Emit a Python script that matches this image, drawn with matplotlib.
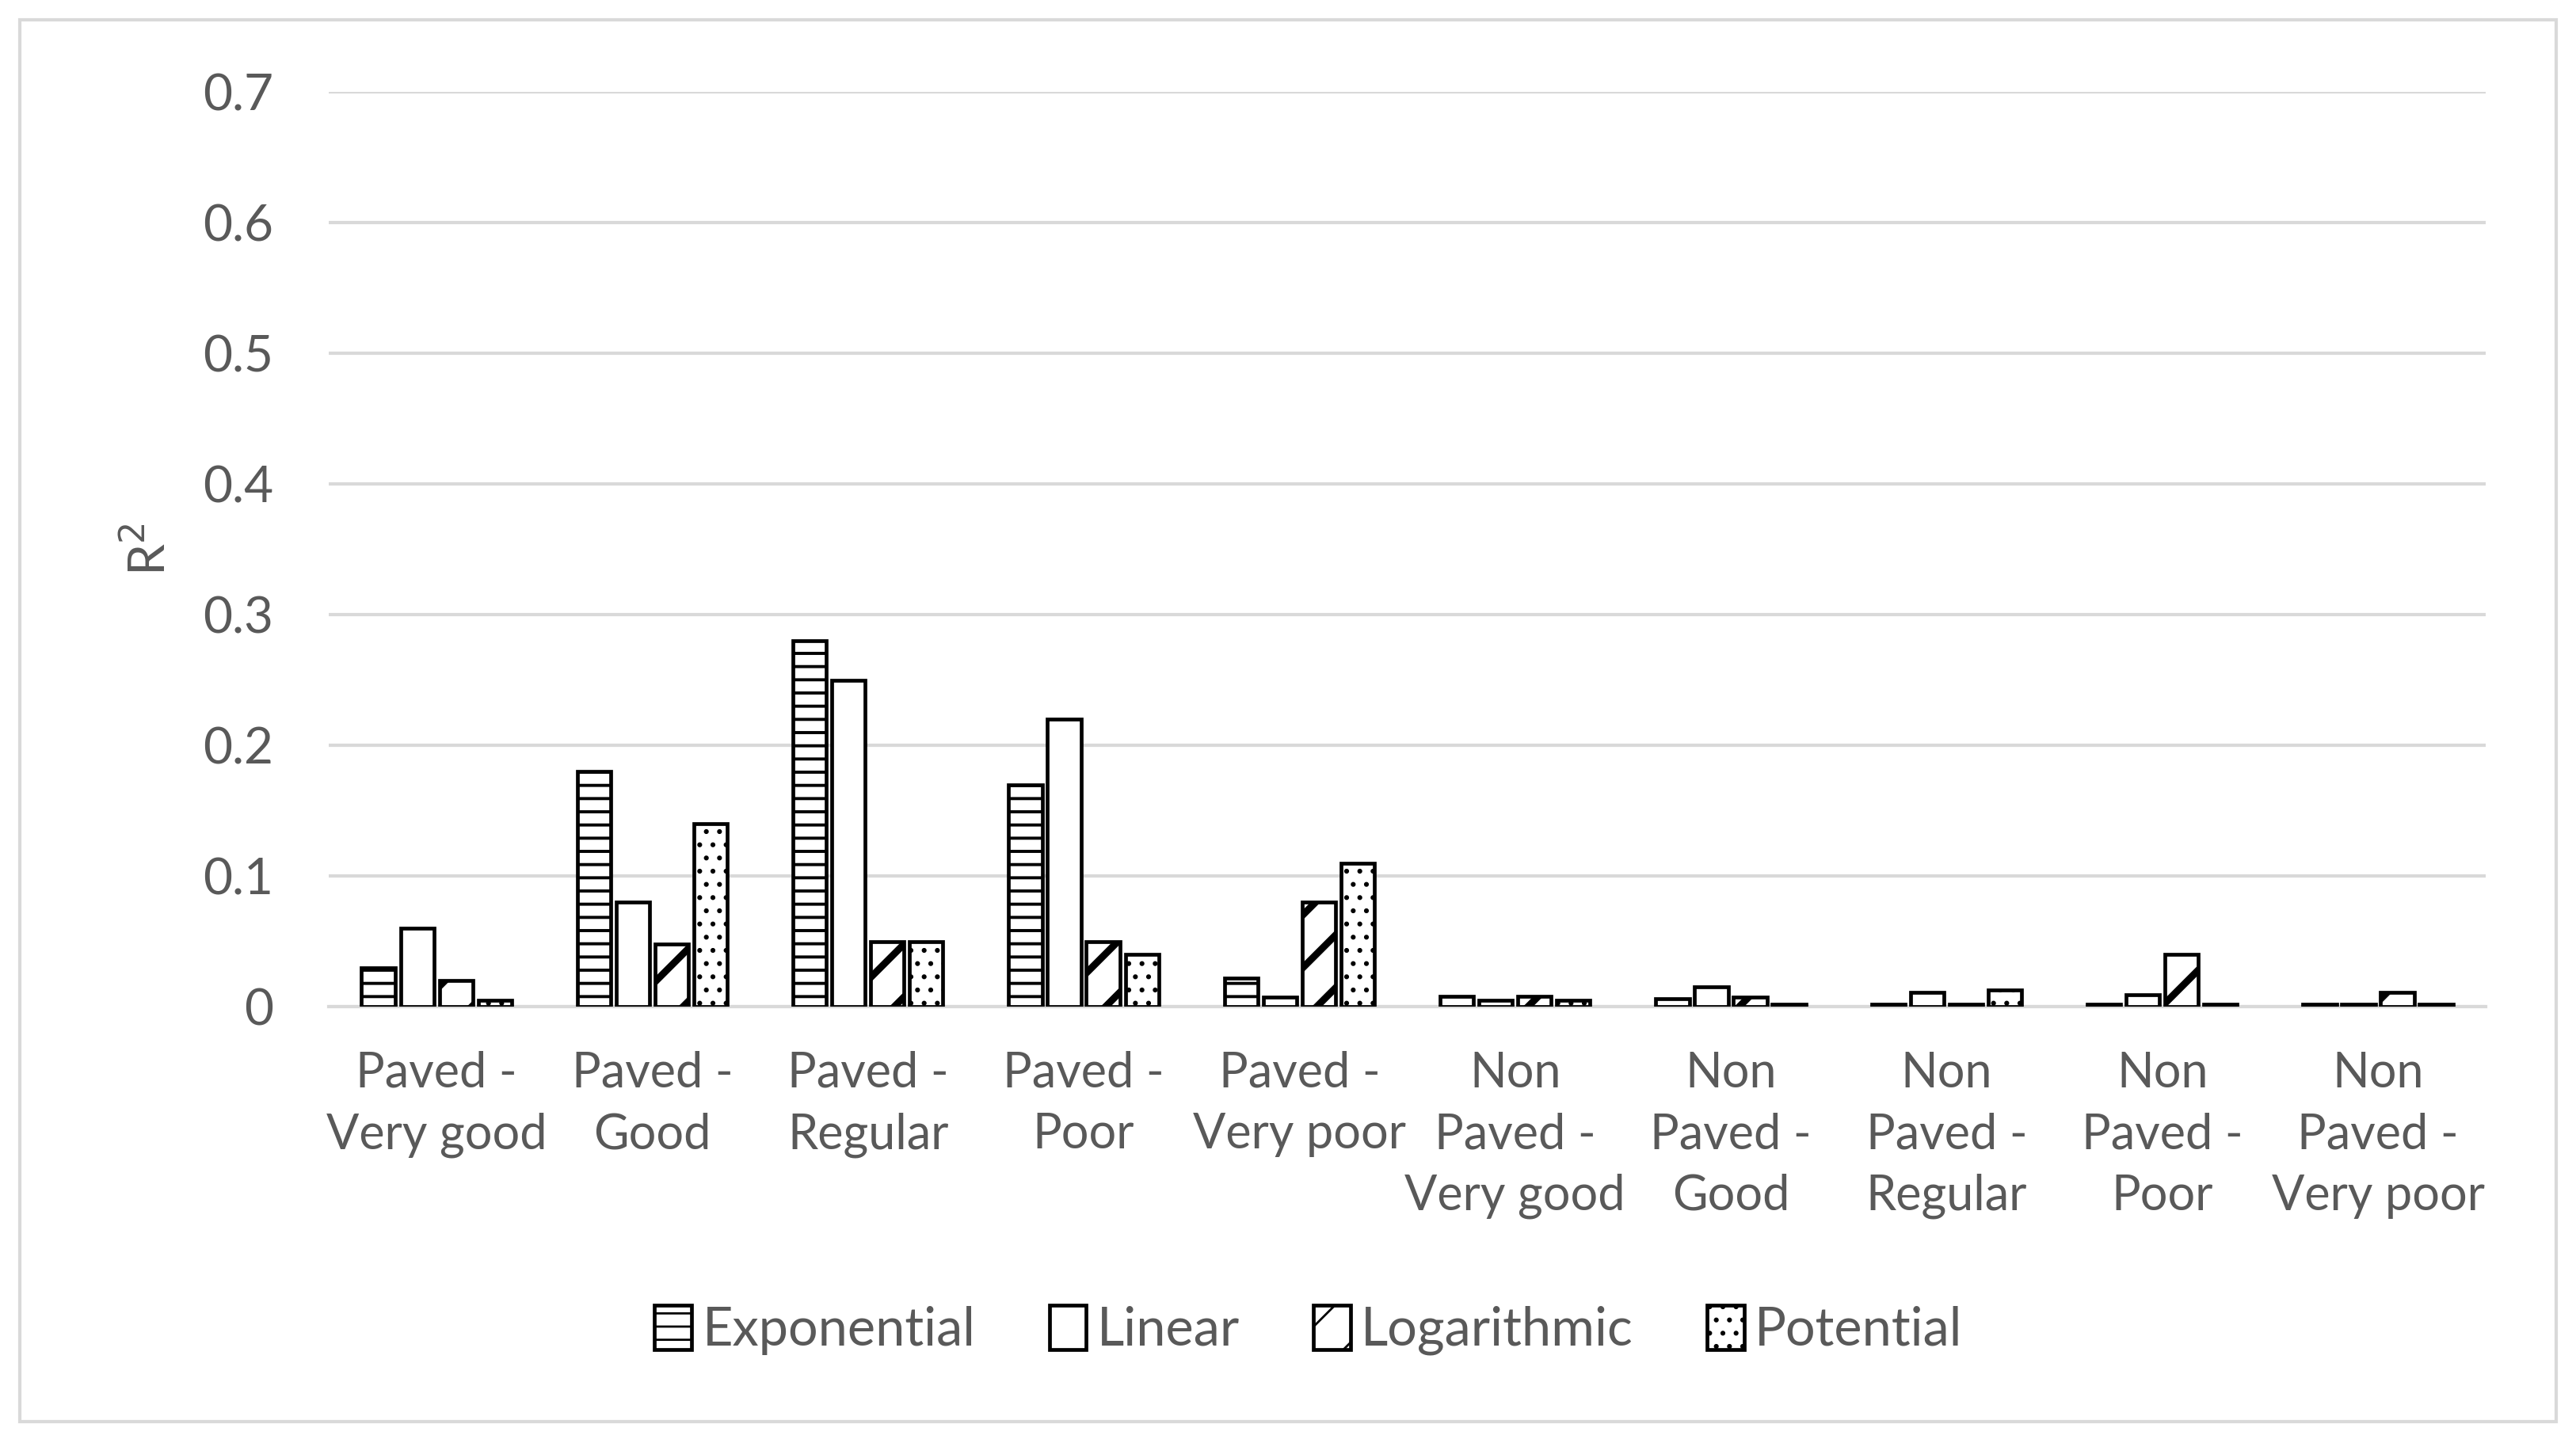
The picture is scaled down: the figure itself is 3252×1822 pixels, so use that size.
import numpy as np
import matplotlib
matplotlib.use('Agg')
import matplotlib.pyplot as plt
from matplotlib.patches import Rectangle

plt.rcParams['font.family'] = ['Lato', 'DejaVu Sans']

# categories and R^2 values
categories = ['Paved -\nVery good', 'Paved -\nGood', 'Paved -\nRegular', 'Paved -\nPoor',
              'Paved -\nVery poor', 'Non\nPaved -\nVery good', 'Non\nPaved -\nGood',
              'Non\nPaved -\nRegular', 'Non\nPaved -\nPoor', 'Non\nPaved -\nVery poor']
exponential = [0.03, 0.18, 0.28, 0.17, 0.022, 0.008, 0.006, 0.002, 0.002, 0.002]
linear = [0.06, 0.08, 0.25, 0.22, 0.007, 0.005, 0.015, 0.011, 0.009, 0.002]
logarithmic = [0.02, 0.048, 0.05, 0.05, 0.08, 0.008, 0.007, 0.002, 0.04, 0.011]
potential = [0.005, 0.14, 0.05, 0.04, 0.11, 0.005, 0.002, 0.013, 0.002, 0.002]
series_names = ['Exponential', 'Linear', 'Logarithmic', 'Potential']
yticks = [0, 0.1, 0.2, 0.3, 0.4, 0.5, 0.6, 0.7]
ytick_labels = ['0', '0.1', '0.2', '0.3', '0.4', '0.5', '0.6', '0.7']

hatches = ['--', '', '/', '..']
hatch_lw = [1.4, 1.0, 3.2, 1.0]
txt = '#595959'

fig = plt.figure(figsize=(16.26, 9.11), dpi=200)
ax = fig.add_axes([0.1276, 0.3024, 0.8374, 0.6339])

# light grey frame around the whole chart
fig.patches.append(Rectangle((0.0077, 0.0148), 0.9846, 0.9715, transform=fig.transFigure,
                             fill=False, edgecolor='#d9d9d9', linewidth=1.5))

x = np.arange(len(categories))
step = 0.18
width = 0.155
data = [exponential, linear, logarithmic, potential]
handles = []
for i, vals in enumerate(data):
    plt.rcParams['hatch.linewidth'] = hatch_lw[i]
    b = ax.bar(x + (i - 1.5) * step, vals, width, facecolor='white', edgecolor='black',
               hatch=hatches[i], linewidth=1.7, zorder=3, label=series_names[i])
    handles.append(b)

ax.set_xlim(-0.5, len(categories) - 0.5)
ax.set_ylim(0, 0.7)
ax.set_yticks(yticks)
ax.set_yticklabels(ytick_labels)
ax.set_xticks(x)
ax.set_xticklabels(categories, linespacing=1.45)
ax.tick_params(axis='both', length=0, labelcolor=txt)
ax.tick_params(axis='x', pad=20, labelsize=22)
ax.tick_params(axis='y', pad=25, labelsize=23)
ax.grid(axis='y', color='#d9d9d9', linewidth=1.5, zorder=0)
for s in ['top', 'right', 'left']:
    ax.spines[s].set_visible(False)
ax.spines['bottom'].set_color('#d9d9d9')
ax.spines['bottom'].set_linewidth(1.5)

ax.set_ylabel('R$^2$', fontsize=23, color=txt, labelpad=13)

fig.legend(handles=handles, labels=series_names, loc='center', bbox_to_anchor=(0.508, 0.078),
           ncol=4, frameon=False, fontsize=24, labelcolor=txt, handlelength=0.7,
           handleheight=0.9, handletextpad=0.2, columnspacing=1.4)

fig.savefig('out.png', dpi=200)
